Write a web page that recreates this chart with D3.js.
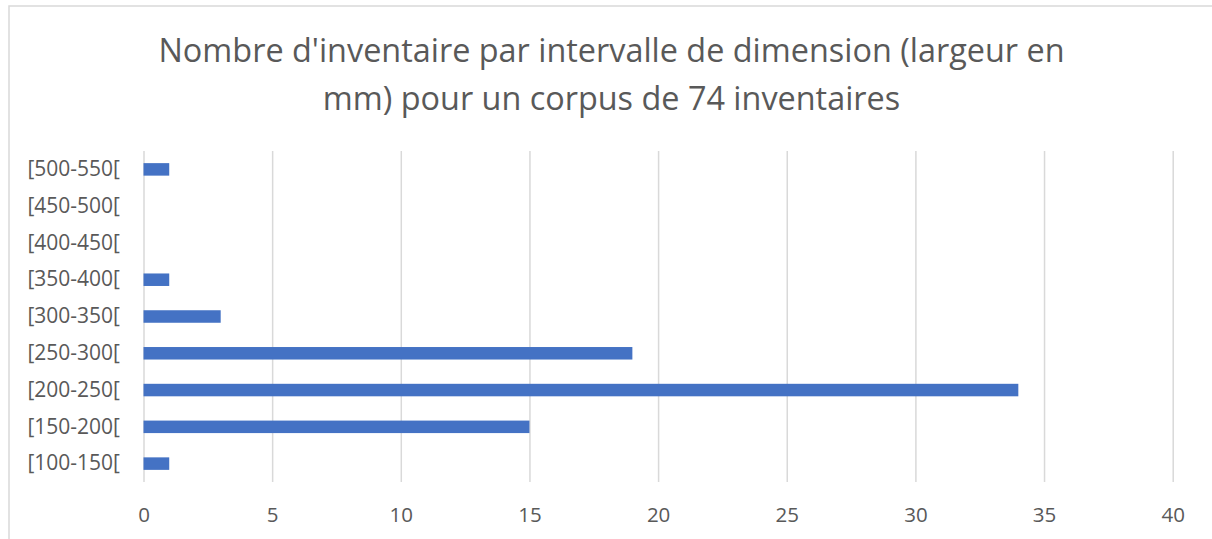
<!DOCTYPE html>
<html>
<head>
<meta charset="utf-8">
<script src="https://cdn.jsdelivr.net/npm/d3@7"></script>
<style>
  html, body { margin: 0; padding: 0; background: #ffffff; }
  svg { display: block; }
  text { font-family: "Open Sans", "Noto Sans", sans-serif; fill: #595959; }
</style>
</head>
<body>
<svg id="chart" width="1212" height="539"></svg>
<script>
// Width classes (mm) and number of inventories in each
const categories = ["[100-150[", "[150-200[", "[200-250[", "[250-300[", "[300-350[",
                    "[350-400[", "[400-450[", "[450-500[", "[500-550["];
const counts = [1, 15, 34, 19, 3, 1, 0, 0, 1];
const xTicks = [0, 5, 10, 15, 20, 25, 30, 35, 40];
const titleLines = ["Nombre d'inventaire par intervalle de dimension (largeur en",
                    "mm) pour un corpus de 74 inventaires"];

const svg = d3.select("#chart");
const W = 1212, H = 539;

// Chart frame
svg.append("rect")
  .attr("x", 9).attr("y", 6)
  .attr("width", W + 10).attr("height", H + 10)
  .attr("fill", "#ffffff")
  .attr("stroke", "#d9d9d9").attr("stroke-width", 1.5);

const plot = { left: 143.5, right: 1172.7, top: 151, bottom: 482 };

const x = d3.scaleLinear().domain([0, 40]).range([plot.left, plot.right]);
const y = d3.scaleBand().domain(categories)
  .range([plot.bottom, plot.top])
  .paddingInner(0.66).paddingOuter(0.33);

// Title
svg.append("g").selectAll("text")
  .data(titleLines)
  .join("text")
  .attr("x", 611.5)
  .attr("y", (d, i) => 62 + i * 48)
  .attr("text-anchor", "middle")
  .attr("font-size", 32.4)
  .text(d => d);

// Vertical gridlines + value labels
const xAxis = svg.append("g")
  .attr("transform", `translate(0,${plot.bottom})`)
  .call(d3.axisBottom(x).tickValues(xTicks)
    .tickSize(-(plot.bottom - plot.top)).tickPadding(0).tickFormat(d3.format("d")));
xAxis.select(".domain").remove();
xAxis.selectAll(".tick line").attr("stroke", "#d9d9d9").attr("stroke-width", 1.5);
xAxis.selectAll(".tick text")
  .attr("y", 32.5).attr("dy", "0.35em")
  .attr("font-size", 20.5)
  .style("fill", "#595959");

// Category labels
const yAxis = svg.append("g")
  .attr("transform", `translate(${plot.left},0)`)
  .call(d3.axisLeft(y).tickSize(0).tickPadding(23.5));
yAxis.select(".domain").remove();
yAxis.selectAll(".tick text")
  .attr("font-size", 21)
  .style("fill", "#595959");

// Bars
svg.append("g").selectAll("rect")
  .data(categories.map((c, i) => ({ c, v: counts[i] })))
  .join("rect")
  .attr("x", x(0))
  .attr("y", d => y(d.c))
  .attr("width", d => x(d.v) - x(0))
  .attr("height", y.bandwidth())
  .attr("fill", "#4472c4");
</script>
</body>
</html>
